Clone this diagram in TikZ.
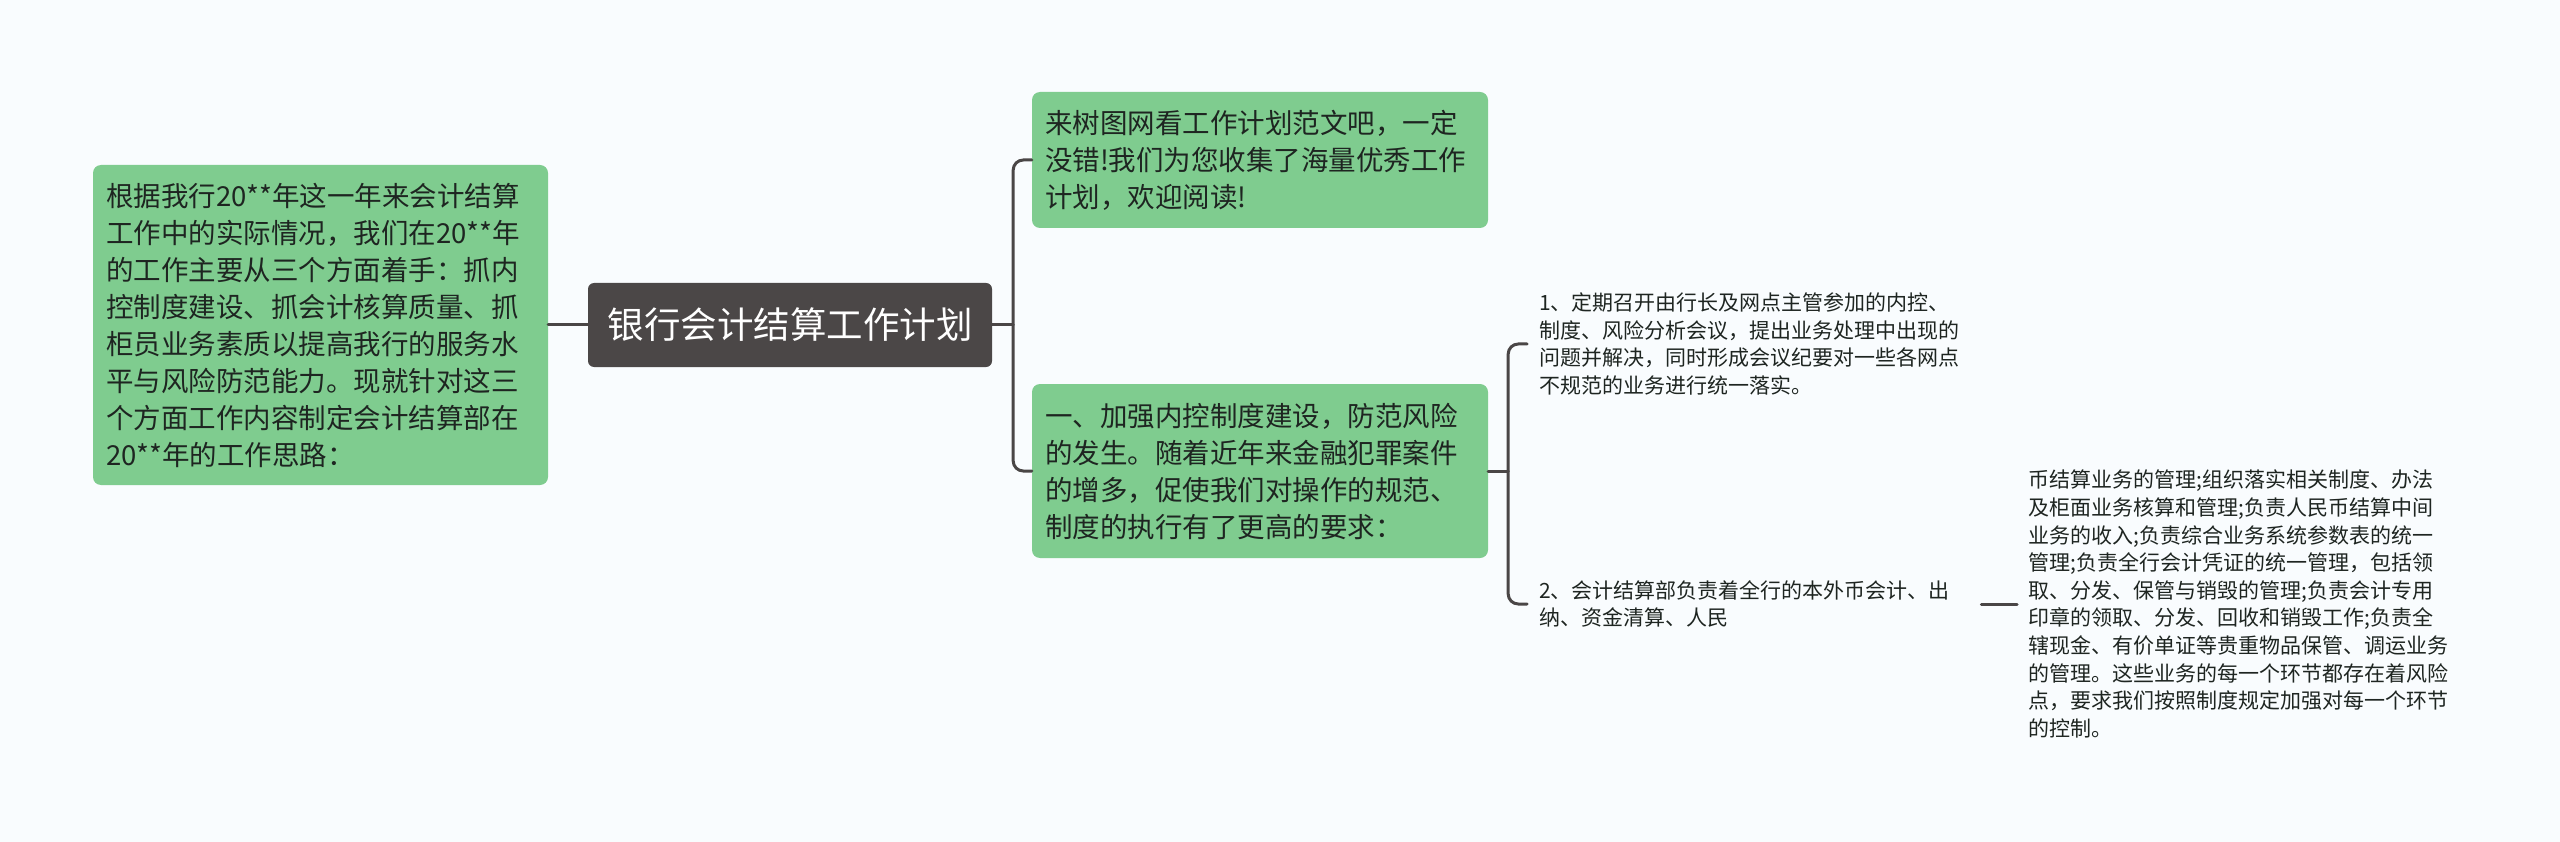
\documentclass[tikz,border=0pt]{standalone}
\usepackage{fontspec}
\setmainfont{Noto Sans CJK SC}
\usetikzlibrary{positioning}
\definecolor{mapBg}{HTML}{F9FCFE}
\definecolor{mapGreen}{HTML}{7FCC8F}
\definecolor{mapInk}{HTML}{1E2521}
\definecolor{mapRoot}{HTML}{4B4747}
\definecolor{mapLine}{HTML}{4A4646}
\begin{document}
\begin{tikzpicture}[x=1pt, y=-1pt,
  greenbox/.style={fill=mapGreen, rounded corners=8pt, text=mapInk, align=left,
    inner xsep=13pt, inner ysep=0pt, font=\fontsize{27.5}{37}\selectfont},
  rootbox/.style={fill=mapRoot, rounded corners=6pt, text=white, inner sep=0pt,
    minimum width=404pt, minimum height=84pt, font=\fontsize{36.5}{44}\selectfont},
  leaftext/.style={anchor=west, align=left, text=mapInk, inner xsep=12pt, inner ysep=0pt,
    font=\fontsize{21}{27.6}\selectfont},
  conn/.style={draw=mapLine, line width=3pt, line cap=round, line join=round, rounded corners=10pt}]
% canvas
\fill[mapBg] (0,0) rectangle (2560,842);
\useasboundingbox (0,0) rectangle (2560,842);
% central topic
\node[rootbox] (root) at (790,325) {银行会计结算工作计划};
% left summary
\node[greenbox, text width=429pt, minimum height=320pt] (summary) at (320.5,325)
  {根据我行20**年这一年来会计结算\\
   工作中的实际情况，我们在20**年\\
   的工作主要从三个方面着手：抓内\\
   控制度建设、抓会计核算质量、抓\\
   柜员业务素质以提高我行的服务水\\
   平与风险防范能力。现就针对这三\\
   个方面工作内容制定会计结算部在\\
   20**年的工作思路：};
% right branches
\node[greenbox, text width=430pt, minimum height=136pt] (intro) at (1260,160)
  {来树图网看工作计划范文吧，一定\\
   没错!我们为您收集了海量优秀工作\\
   计划，欢迎阅读!};
\node[greenbox, text width=430pt, minimum height=174pt] (ctrl) at (1260,471)
  {一、加强内控制度建设，防范风险\\
   的发生。随着近年来金融犯罪案件\\
   的增多，促使我们对操作的规范、\\
   制度的执行有了更高的要求：};
% leaves
\node[leaftext, text width=430pt] (meeting) at (1527,344)
  {1、定期召开由行长及网点主管参加的内控、\\
   制度、风险分析会议，提出业务处理中出现的\\
   问题并解决，同时形成会议纪要对一些各网点\\
   不规范的业务进行统一落实。};
\node[leaftext, text width=430pt] (duty) at (1527,604)
  {2、会计结算部负责着全行的本外币会计、出\\
   纳、资金清算、人民};
\node[leaftext, inner xsep=11pt, text width=420pt] (dutyMore) at (2017,604)
  {币结算业务的管理;组织落实相关制度、办法\\
   及柜面业务核算和管理;负责人民币结算中间\\
   业务的收入;负责综合业务系统参数表的统一\\
   管理;负责全行会计凭证的统一管理，包括领\\
   取、分发、保管与销毁的管理;负责会计专用\\
   印章的领取、分发、回收和销毁工作;负责全\\
   辖现金、有价单证等贵重物品保管、调运业务\\
   的管理。这些业务的每一个环节都存在着风险\\
   点，要求我们按照制度规定加强对每一个环节\\
   的控制。};
% connectors
\draw[conn] (summary.east) -- (root.west);
\draw[conn] (root.east) -- ++(21,0) coordinate (forkA);
\draw[conn] (forkA) |- (intro.west);
\draw[conn] (forkA) |- (ctrl.west);
\draw[conn] (ctrl.east) -- ++(20,0) coordinate (forkB);
\draw[conn] (forkB) |- (meeting.west);
\draw[conn] (forkB) |- (duty.west);
\draw[conn] (duty.east) -- (dutyMore.west);
\end{tikzpicture}
\end{document}
